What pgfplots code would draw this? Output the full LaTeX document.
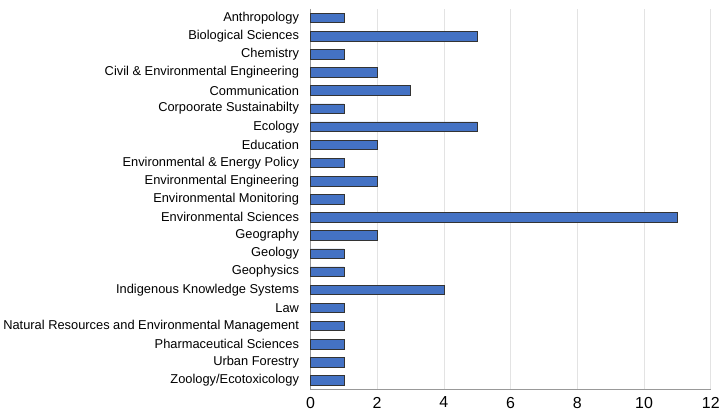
\documentclass[border=0pt]{standalone}
\usepackage{pgfplots}
\pgfplotsset{compat=1.18}
\usepackage{fontspec}
\setmainfont{Liberation Sans}
\definecolor{barblue}{HTML}{4472C4}
\begin{document}
\begin{tikzpicture}
\begin{axis}[
  scale only axis,
  width=402pt, height=382pt,
  xbar, bar width=9.5pt,
  xmin=0, xmax=12, xtick={0,2,...,12},
  ymin=-0.5, ymax=20.5, y dir=reverse,
  ytick={0,...,20},
  yticklabels={Anthropology,Biological Sciences,Chemistry,Civil \& Environmental Engineering,Communication,Corpoorate Sustainabilty,Ecology,Education,Environmental \& Energy Policy,Environmental Engineering,Environmental Monitoring,Environmental Sciences,Geography,Geology,Geophysics,Indigenous Knowledge Systems,Law,Natural Resources and Environmental Management,Pharmaceutical Sciences,Urban Forestry,Zoology/Ecotoxicology},
  yticklabel style={font=\fontsize{12.9}{14}\selectfont, xshift=-8pt},
  xticklabel style={font=\fontsize{16}{18}\selectfont, yshift=-4pt},
  /pgf/number format/assume math mode=true,
  major tick length=0pt,
  axis x line*=bottom, axis y line*=left,
  axis line style={draw=gray!80, -},
  xmajorgrids, grid style={draw=gray!22, line width=0.8pt},
  clip=false,
]
\addplot[fill=barblue, draw=black!80, line width=0.6pt] coordinates {
(1,0) (5,1) (1,2) (2,3) (3,4) (1,5) (5,6) (2,7) (1,8) (2,9) (1,10) (11,11) (2,12) (1,13) (1,14) (4,15) (1,16) (1,17) (1,18) (1,19) (1,20)
};
\end{axis}
\path (current axis.north) ++(0,9pt) coordinate (topmargin);
\path (topmargin) -- (topmargin);
\end{tikzpicture}
\end{document}
